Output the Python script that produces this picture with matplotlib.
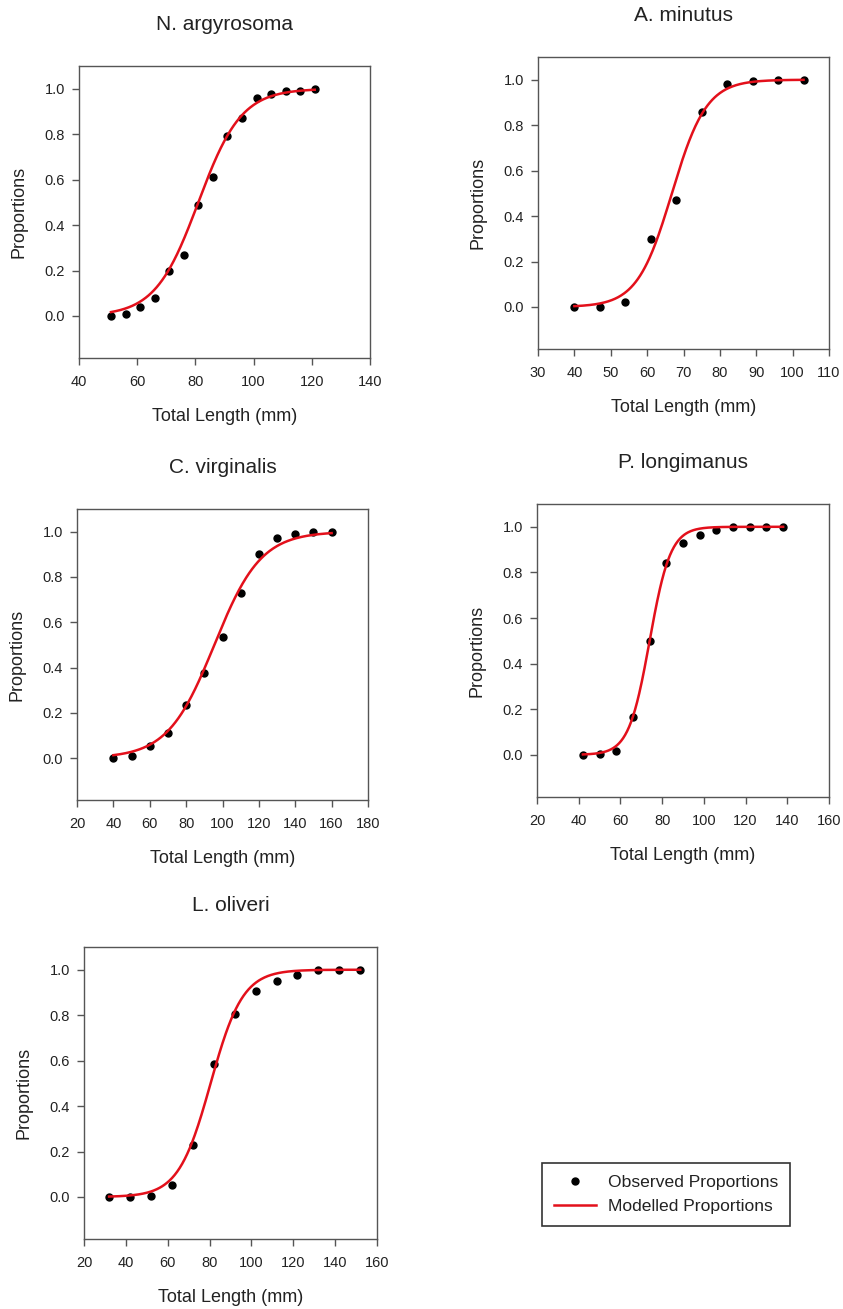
import numpy as np
import matplotlib
matplotlib.use('Agg')
import matplotlib.pyplot as plt
from matplotlib.lines import Line2D

plt.rcParams['font.family'] = ['Liberation Sans', 'DejaVu Sans']

# species names (panel titles)
species = ['N. argyrosoma', 'A. minutus', 'C. virginalis', 'P. longimanus', 'L. oliveri']

# observed length classes (mm) and proportions
len_argyrosoma = [51, 56, 61, 66, 71, 76, 81, 86, 91, 96, 101, 106, 111, 116, 121]
obs_argyrosoma = [0.0, 0.007, 0.04, 0.08, 0.20, 0.27, 0.49, 0.61, 0.79, 0.87, 0.96, 0.975, 0.99, 0.99, 1.0]

len_minutus = [40, 47, 54, 61, 68, 75, 82, 89, 96, 103]
obs_minutus = [0.0, 0.002, 0.022, 0.30, 0.47, 0.86, 0.98, 0.995, 1.0, 1.0]

len_virginalis = [40, 50, 60, 70, 80, 90, 100, 110, 120, 130, 140, 150, 160]
obs_virginalis = [0.0, 0.01, 0.054, 0.11, 0.234, 0.375, 0.536, 0.728, 0.902, 0.971, 0.99, 0.997, 1.0]

len_longimanus = [42, 50, 58, 66, 74, 82, 90, 98, 106, 114, 122, 130, 138]
obs_longimanus = [0.0, 0.004, 0.015, 0.165, 0.50, 0.843, 0.93, 0.963, 0.988, 0.998, 1.0, 1.0, 1.0]

len_oliveri = [32, 42, 52, 62, 72, 82, 92, 102, 112, 122, 132, 142, 152]
obs_oliveri = [0.0, 0.001, 0.006, 0.053, 0.228, 0.583, 0.807, 0.905, 0.95, 0.978, 0.997, 1.0, 1.0]

# fitted logistic parameters (L50 in mm, slope per mm)
l50 = [81.0, 66.8, 95.5, 74.0, 80.5]
slope = [0.135, 0.21, 0.078, 0.20, 0.13]

# x-axis ticks per panel
xticks_list = [
    [40, 60, 80, 100, 120, 140],
    [30, 40, 50, 60, 70, 80, 90, 100, 110],
    [20, 40, 60, 80, 100, 120, 140, 160, 180],
    [20, 40, 60, 80, 100, 120, 140, 160],
    [20, 40, 60, 80, 100, 120, 140, 160],
]
yticks = [0.0, 0.2, 0.4, 0.6, 0.8, 1.0]

lengths = [len_argyrosoma, len_minutus, len_virginalis, len_longimanus, len_oliveri]
observed = [obs_argyrosoma, obs_minutus, obs_virginalis, obs_longimanus, obs_oliveri]

# axes boxes in pixels: left, right, top, bottom
W, H = 843, 1309
boxes = [
    (79, 370, 66, 358),
    (538, 829, 57, 349),
    (77, 368, 509, 800),
    (537, 829, 504, 797),
    (84, 377, 947, 1239),
]

RED = '#e3101b'
SPINE = '#555555'
TXT = '#222222'

fig = plt.figure(figsize=(W / 100, H / 100), dpi=100)

for i in range(5):
    l, r, t, b = boxes[i]
    ax = fig.add_axes([l / W, 1 - b / H, (r - l) / W, (b - t) / H])
    x = np.array(lengths[i], dtype=float)
    y = np.array(observed[i])
    ax.plot(x, y, 'o', color='black', markersize=5, zorder=2)
    xs = np.linspace(x.min(), x.max(), 300)
    ys = 1.0 / (1.0 + np.exp(-slope[i] * (xs - l50[i])))
    ax.plot(xs, ys, color=RED, linewidth=1.8, zorder=3)

    xt = xticks_list[i]
    ax.set_xlim(xt[0], xt[-1])
    ax.set_ylim(-0.185, 1.1)
    ax.set_xticks(xt)
    ax.set_yticks(yticks)
    ax.set_yticklabels([f'{v:.1f}' for v in yticks])
    ax.tick_params(direction='out', length=5, width=1, color=SPINE,
                   labelsize=10.5, labelcolor=TXT, pad=5)
    ax.tick_params(axis='x', pad=7)
    for s in ax.spines.values():
        s.set_color(SPINE)
        s.set_linewidth(1.0)
    ax.set_title(species[i], fontsize=15, color=TXT, pad=26)
    ax.set_xlabel('Total Length (mm)', fontsize=13, color=TXT, labelpad=14)
    ax.set_ylabel('Proportions', fontsize=13, color=TXT, labelpad=12)

handles = [
    Line2D([], [], linestyle='none', marker='o', color='black', markersize=5),
    Line2D([], [], color=RED, linewidth=1.8),
]
leg = fig.legend(handles, ['Observed Proportions', 'Modelled Proportions'],
                 loc='upper left', bbox_to_anchor=(542 / W, 1 - 1163 / H),
                 fontsize=12.6, frameon=True, fancybox=False, edgecolor='black',
                 handlelength=2.4, borderpad=0.7, labelspacing=0.45,
                 handletextpad=0.65, borderaxespad=0)
leg.get_frame().set_linewidth(1.2)
for txt in leg.get_texts():
    txt.set_color(TXT)

fig.savefig('out.png', dpi=100)
